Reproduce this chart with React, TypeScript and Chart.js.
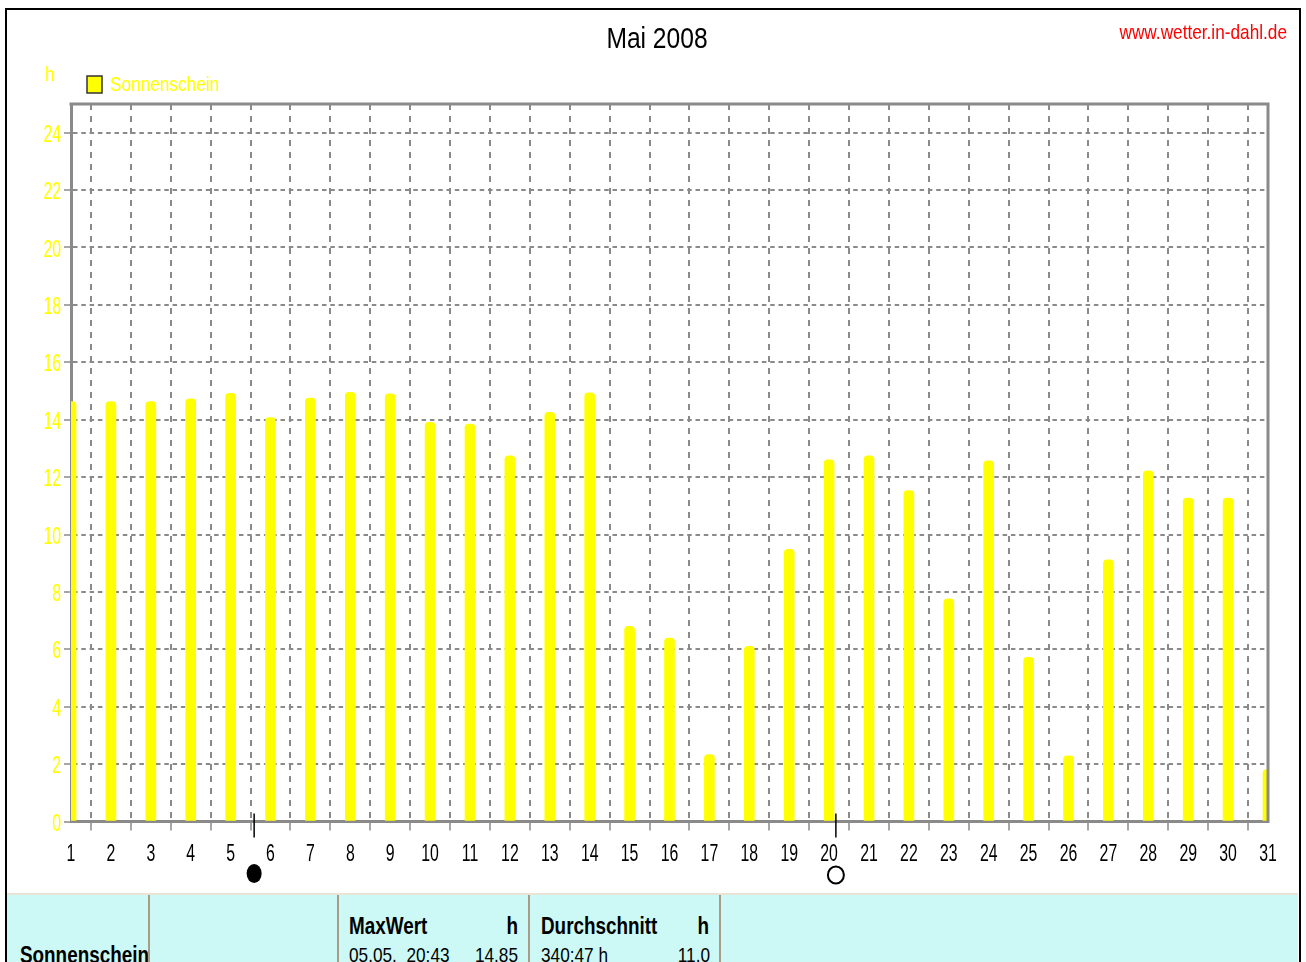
import React, { useEffect, useRef } from "react";
import { Chart, registerables } from "chart.js";

Chart.register(...registerables);

// ---------- data ----------
const days: number[] = [
  1, 2, 3, 4, 5, 6, 7, 8, 9, 10, 11, 12, 13, 14, 15, 16,
  17, 18, 19, 20, 21, 22, 23, 24, 25, 26, 27, 28, 29, 30, 31,
];
const sunshineHours: number[] = [
  14.63, 14.63, 14.63, 14.73, 14.92, 14.07, 14.75, 14.95, 14.9, 13.91, 13.85,
  12.74, 14.26, 14.94, 6.8, 6.39, 2.33, 6.1, 9.48, 12.6, 12.74, 11.53, 7.76,
  12.57, 5.72, 2.29, 9.12, 12.22, 11.27, 11.27, 1.81,
];
const yTickValues: number[] = [0, 2, 4, 6, 8, 10, 12, 14, 16, 18, 20, 22, 24];
const moonDays: number[] = [5.59, 20.17];
const moonKinds: string[] = ["new", "full"];

const titleText = "Mai 2008";
const siteText = "www.wetter.in-dahl.de";
const seriesLabel = "Sonnenschein";
const unitLabel = "h";

const tableRowLabel = "Sonnenschein";
const maxHeader = "MaxWert";
const maxDate = "05.05.  20:43";
const maxValue = "14.85";
const avgHeader = "Durchschnitt";
const avgTotal = "340:47 h";
const avgValue = "11.0";

// ---------- styles ----------
const NARROW_BASE = "'Liberation Sans', Arial, sans-serif";
const SX = 0.82;
const TICK_SX = 0.66;
const TICK_SIZE = 24;
const GRAY = "#8a8a8a";
const YELLOW = "#ffff00";

function narrowText(
  ctx: CanvasRenderingContext2D,
  text: string,
  x: number,
  y: number,
  size: number,
  color: string,
  align: CanvasTextAlign,
  sx: number = SX,
  baseline: CanvasTextBaseline = "middle"
) {
  ctx.save();
  ctx.translate(x, y);
  ctx.scale(sx, 1);
  ctx.font = `${size}px ${NARROW_BASE}`;
  ctx.fillStyle = color;
  ctx.textAlign = align;
  ctx.textBaseline = baseline;
  ctx.fillText(text, 0, 0);
  ctx.restore();
}

const overlayPlugin = {
  id: "overlay",
  afterDraw(chart: any) {
    const ctx = chart.ctx as CanvasRenderingContext2D;
    const area = chart.chartArea;
    const xs = chart.scales.x;
    const ys = chart.scales.y;
    ctx.save();
    // top and right plot border
    ctx.strokeStyle = GRAY;
    ctx.lineWidth = 3;
    ctx.beginPath();
    ctx.moveTo(area.left - 1.5, area.top);
    ctx.lineTo(area.right, area.top);
    ctx.lineTo(area.right, area.bottom + 1.5);
    ctx.stroke();

    // tick labels (positions from the library's scales)
    const half = (TICK_SIZE * 0.716) / 2;
    xs.ticks.forEach((t: any) => {
      narrowText(ctx, String(t.value), xs.getPixelForValue(t.value), area.bottom + 30.5 + half,
        TICK_SIZE, "#000", "center", TICK_SX, "alphabetic");
    });
    ys.ticks.forEach((t: any) => {
      narrowText(ctx, String(t.value), 61, ys.getPixelForValue(t.value) + half + 0.5,
        TICK_SIZE, YELLOW, "right", TICK_SX, "alphabetic");
    });

    // title, site url, unit label
    narrowText(ctx, titleText, 657, 40, 30, "#000", "center");
    narrowText(ctx, siteText, 1287, 33, 21, "#ff0000", "right");
    narrowText(ctx, unitLabel, 45, 75, 21, YELLOW, "left");

    // legend
    ctx.fillStyle = YELLOW;
    ctx.fillRect(87, 76, 15, 17);
    ctx.strokeStyle = "#333";
    ctx.lineWidth = 1.5;
    ctx.strokeRect(87, 76, 15, 17);
    narrowText(ctx, seriesLabel, 110, 85, 21, YELLOW, "left");

    // moon phases
    for (let i = 0; i < moonDays.length; i++) {
      const px = xs.getPixelForValue(moonDays[i]);
      ctx.strokeStyle = "#000";
      ctx.lineWidth = 1.5;
      ctx.beginPath();
      ctx.moveTo(px, area.bottom - 8);
      ctx.lineTo(px, area.bottom + 16);
      ctx.stroke();
      ctx.beginPath();
      if (moonKinds[i] === "new") {
        ctx.ellipse(px, 873.5, 7.5, 9.5, 0, 0, Math.PI * 2);
        ctx.fillStyle = "#000";
        ctx.fill();
      } else {
        ctx.ellipse(px, 875, 8, 8.5, 0, 0, Math.PI * 2);
        ctx.fillStyle = "#fff";
        ctx.fill();
        ctx.lineWidth = 2;
        ctx.stroke();
      }
    }
    ctx.restore();
  },
};

export default function App() {
  const canvasRef = useRef<HTMLCanvasElement | null>(null);

  useEffect(() => {
    if (!canvasRef.current) return;
    const chart = new Chart(canvasRef.current, {
      type: "bar",
      data: {
        labels: days,
        datasets: [
          {
            label: seriesLabel,
            data: days.map((d, i) => ({ x: d, y: sunshineHours[i] })),
            backgroundColor: YELLOW,
            borderWidth: 0,
            barThickness: 10,
            borderRadius: { topLeft: 4, topRight: 4, bottomLeft: 0, bottomRight: 0 },
            borderSkipped: "start",
          },
        ],
      },
      options: {
        animation: false,
        responsive: false,
        events: [],
        layout: { padding: { left: 0, right: 38, top: 104, bottom: 0 } },
        plugins: {
          legend: { display: false },
          title: { display: false },
          tooltip: { enabled: false },
        },
        scales: {
          x: {
            type: "linear",
            min: 1,
            max: 31,
            offset: false,
            afterBuildTicks: (scale: any) => {
              scale.ticks = days.map((d) => ({ value: d }));
            },
            afterFit: (scale: any) => {
              scale.height = 71.5;
              scale.paddingLeft = 0;
              scale.paddingRight = 0;
            },
            ticks: { display: false, autoSkip: false, maxRotation: 0 },
            grid: {
              color: GRAY,
              lineWidth: 2,
              tickLength: 9,
              tickColor: GRAY,
              tickWidth: 1.5,
            },
            border: { color: GRAY, width: 3, dash: [6, 6] },
          },
          y: {
            min: 0,
            max: 25,
            afterBuildTicks: (scale: any) => {
              scale.ticks = yTickValues.map((v) => ({ value: v }));
            },
            afterFit: (scale: any) => {
              scale.width = 71;
              scale.paddingTop = 0;
              scale.paddingBottom = 0;
            },
            ticks: { display: false },
            grid: {
              color: GRAY,
              lineWidth: 2,
              tickLength: 7,
              tickColor: GRAY,
              tickWidth: 1.5,
            },
            border: { color: GRAY, width: 3, dash: [4.5, 3.8] },
          },
        },
      },
      plugins: [overlayPlugin],
    } as any);
    return () => chart.destroy();
  }, []);

  const cellBold: React.CSSProperties = {
    position: "absolute",
    fontFamily: NARROW_BASE,
    fontWeight: "bold",
    fontSize: 23,
    color: "#000",
    whiteSpace: "pre",
    lineHeight: "26px",
    transform: `scaleX(${SX})`,
    transformOrigin: "left top",
  };
  const cellNorm: React.CSSProperties = {
    ...cellBold,
    fontWeight: "normal",
    fontSize: 21,
  };
  const cellNormRight: React.CSSProperties = {
    ...cellNorm,
    transformOrigin: "right top",
    textAlign: "right",
  };
  const cellBoldRight: React.CSSProperties = {
    ...cellBold,
    transformOrigin: "right top",
    textAlign: "right",
  };
  const sep = (left: number): React.CSSProperties => ({
    position: "absolute",
    left,
    top: 0,
    width: 2,
    height: 80,
    background: "#a89c86",
  });

  return (
    <div
      style={{
        position: "fixed",
        left: 0,
        top: 0,
        width: 1306,
        height: 962,
        overflow: "hidden",
        background: "#fff",
      }}
    >
      <div
        style={{
          position: "absolute",
          left: 5,
          top: 8,
          width: 1296,
          height: 1000,
          border: "2.5px solid #000",
          boxSizing: "border-box",
        }}
      />
      <canvas
        ref={canvasRef}
        width={1306}
        height={893}
        style={{ position: "absolute", left: 0, top: 0, width: 1306, height: 893 }}
      />
      <div
        style={{
          position: "absolute",
          left: 7,
          top: 893,
          width: 1291,
          height: 80,
          background: "#ccf9f5",
          borderTop: "2px solid #e8e4d6",
          boxSizing: "border-box",
          overflow: "hidden",
        }}
      >
        <div style={sep(141)} />
        <div style={sep(330)} />
        <div style={sep(521)} />
        <div style={sep(712)} />
        <div style={{ position: "absolute", left: 13, top: 0, width: 128, height: 80, overflow: "hidden" }}>
          <div style={{ ...cellBold, left: 0, top: 47 }}>{tableRowLabel}</div>
        </div>
        <div style={{ ...cellBold, left: 342, top: 18 }}>{maxHeader}</div>
        <div style={{ ...cellBoldRight, left: 411, width: 100, top: 18 }}>{unitLabel}</div>
        <div style={{ ...cellNorm, left: 342, top: 47 }}>{maxDate}</div>
        <div style={{ ...cellNormRight, left: 411, width: 100, top: 47 }}>{maxValue}</div>
        <div style={{ ...cellBold, left: 534, top: 18 }}>{avgHeader}</div>
        <div style={{ ...cellBoldRight, left: 602, width: 100, top: 18 }}>{unitLabel}</div>
        <div style={{ ...cellNorm, left: 534, top: 47 }}>{avgTotal}</div>
        <div style={{ ...cellNormRight, left: 603, width: 100, top: 47 }}>{avgValue}</div>
      </div>
    </div>
  );
}
